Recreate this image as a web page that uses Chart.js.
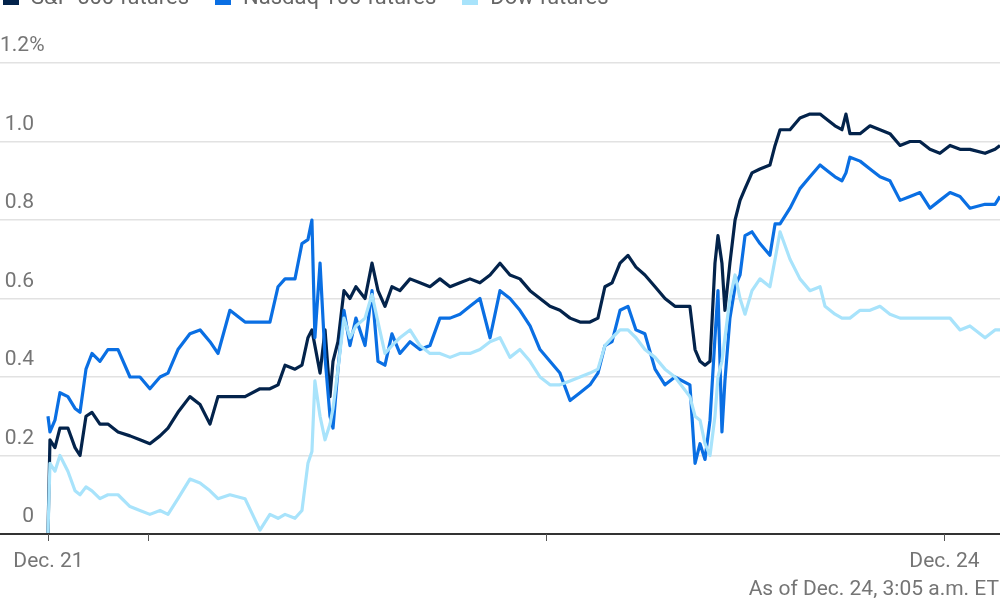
<!DOCTYPE html>
<html><head><meta charset="utf-8">
<script src="https://cdn.jsdelivr.net/npm/chart.js@4"></script>
<style>
body{margin:0;background:#fff;font-family:Roboto,"Liberation Sans",sans-serif;overflow:hidden}
#wrap{position:absolute;left:0;top:0;width:1000px;height:600px}
#legend{position:absolute;left:3px;top:-16px;font-size:22px;color:#666;white-space:nowrap}
#legend span.sw{display:inline-block;width:16px;height:16px;margin-right:12px;vertical-align:-1px}
#legend span.it{margin-right:26px}
</style></head><body>
<div id="wrap"><canvas id="c" width="1000" height="600"></canvas></div>
<div id="legend"></div>
<script>
const seriesNames = ["S&P 500 futures","Nasdaq 100 futures","Dow futures"];
const seriesColors = ["#03234b","#0a6fe3","#a8e3fb"];
// hours since 6 p.m. ET, Dec. 21
const hours = [
0,0.12,0.42,0.72,1.2,1.63,1.93,2.29,2.65,3.13,
3.61,4.22,4.94,5.54,6.14,6.75,7.23,7.83,8.55,9.16,
9.76,10.24,10.96,11.87,12.77,13.37,13.86,14.28,14.88,15.3,
15.66,15.9,16.08,16.39,16.69,16.99,17.17,17.47,17.83,18.19,
18.55,19.1,19.52,19.88,20.3,20.72,21.2,21.81,22.41,23.01,
23.61,24.22,24.82,25.42,26.02,26.63,27.23,27.83,28.43,29.04,
29.64,30.24,30.84,31.45,32.05,32.65,33.13,33.55,33.98,34.46,
34.94,35.42,35.96,36.57,37.17,37.77,38.67,38.98,39.28,39.58,
39.88,40.18,40.36,40.6,40.78,41.08,41.39,41.69,41.99,42.41,
42.89,43.49,43.8,44.1,44.7,45.3,45.9,46.51,46.81,47.41,
47.83,48.07,48.31,48.92,49.52,50.12,50.72,51.33,51.93,52.53,
53.13,53.73,54.34,54.94,55.54,56.45,57.05,57.35];
const spFutures = [
0,0.24,0.22,0.27,0.27,0.22,0.2,0.3,0.31,0.28,
0.28,0.26,0.25,0.24,0.23,0.25,0.27,0.31,0.35,0.33,
0.28,0.35,0.35,0.35,0.37,0.37,0.38,0.43,0.42,0.43,
0.5,0.52,0.48,0.41,0.52,0.35,0.44,0.49,0.62,0.6,
0.63,0.6,0.69,0.62,0.58,0.63,0.62,0.65,0.64,0.63,
0.65,0.63,0.64,0.65,0.64,0.66,0.69,0.66,0.65,0.62,
0.6,0.58,0.57,0.55,0.54,0.54,0.55,0.63,0.64,0.69,
0.71,0.68,0.66,0.63,0.6,0.58,0.58,0.47,0.44,0.43,
0.44,0.69,0.76,0.69,0.57,0.69,0.8,0.85,0.88,0.92,
0.93,0.94,0.99,1.03,1.03,1.06,1.07,1.07,1.06,1.04,
1.03,1.07,1.02,1.02,1.04,1.03,1.02,0.99,1.0,1.0,
0.98,0.97,0.99,0.98,0.98,0.97,0.98,0.99];
const nasdaqFutures = [
0.3,0.26,0.29,0.36,0.35,0.32,0.31,0.42,0.46,0.44,
0.47,0.47,0.4,0.4,0.37,0.4,0.41,0.47,0.51,0.52,
0.49,0.46,0.57,0.54,0.54,0.54,0.63,0.65,0.65,0.74,
0.75,0.8,0.5,0.69,0.45,0.3,0.27,0.42,0.57,0.48,
0.55,0.48,0.62,0.44,0.43,0.51,0.46,0.49,0.47,0.48,
0.55,0.55,0.56,0.58,0.6,0.5,0.62,0.6,0.57,0.53,
0.47,0.44,0.41,0.34,0.36,0.38,0.41,0.48,0.49,0.57,
0.58,0.52,0.51,0.42,0.38,0.4,0.38,0.18,0.23,0.19,
0.29,0.5,0.62,0.26,0.39,0.55,0.63,0.66,0.76,0.77,
0.74,0.71,0.79,0.79,0.83,0.88,0.91,0.94,0.93,0.91,
0.9,0.92,0.96,0.95,0.93,0.91,0.9,0.85,0.86,0.87,
0.83,0.85,0.87,0.86,0.83,0.84,0.84,0.86];
const dowFutures = [
0,0.18,0.16,0.2,0.16,0.11,0.1,0.12,0.11,0.09,
0.1,0.1,0.07,0.06,0.05,0.06,0.05,0.09,0.14,0.13,
0.11,0.09,0.1,0.09,0.01,0.05,0.04,0.05,0.04,0.06,
0.18,0.21,0.39,0.3,0.24,0.28,0.32,0.42,0.55,0.5,
0.53,0.55,0.61,0.54,0.46,0.48,0.5,0.52,0.48,0.46,
0.46,0.45,0.46,0.46,0.47,0.49,0.5,0.45,0.47,0.44,
0.4,0.38,0.38,0.39,0.4,0.41,0.42,0.48,0.5,0.52,
0.52,0.5,0.47,0.45,0.42,0.4,0.35,0.3,0.29,0.23,
0.2,0.3,0.4,0.44,0.5,0.6,0.66,0.6,0.56,0.62,
0.65,0.63,0.7,0.77,0.7,0.65,0.62,0.63,0.58,0.56,
0.55,0.55,0.55,0.57,0.57,0.58,0.56,0.55,0.55,0.55,
0.55,0.55,0.55,0.52,0.53,0.5,0.52,0.52];
const yTickValues = [0,0.2,0.4,0.6,0.8,1.0,1.2];
const yTickLabels = ["0","0.2","0.4","0.6","0.8","1.0","1.2"];
const xTickHours = [0,6,30,54];
const xTickLabels = ["Dec. 21","","","Dec. 24"];
const footnote = "As of Dec. 24, 3:05 a.m. ET";

document.getElementById('legend').innerHTML = seriesNames.map((n,i)=>
 `<span class="it"><span class="sw" style="background:${seriesColors[i]}"></span>${n.replace('&','&amp;')}</span>`).join('');

const allSeries=[spFutures,nasdaqFutures,dowFutures];
const datasets = [2,1,0].map(i=>({
  label:seriesNames[i],
  data:hours.map((h,k)=>({x:h,y:allSeries[i][k]})),
  borderColor:seriesColors[i],borderWidth:3.2,pointRadius:0,tension:0,borderJoinStyle:'round'
}));

const deco={id:'deco',afterDraw(ch){
  const c=ch.ctx,x=ch.scales.x,y=ch.scales.y,a=ch.chartArea;
  c.save();
  c.font='21px Roboto, "Liberation Sans", sans-serif';c.fillStyle='#757575';c.textBaseline='middle';
  yTickValues.forEach((v,i)=>{const py=y.getPixelForValue(v)-17;
    if(i===yTickValues.length-1){c.textAlign='left';c.fillText(yTickLabels[i]+'%',0,py);}
    else{c.textAlign='right';c.fillText(yTickLabels[i],34,py);} });
  c.strokeStyle='#333';c.lineWidth=2;c.beginPath();c.moveTo(0,a.bottom);c.lineTo(1000,a.bottom);c.stroke();
  c.lineWidth=1;c.strokeStyle='#555';
  xTickHours.forEach((h,i)=>{const px=Math.round(x.getPixelForValue(h))+0.5;
    c.beginPath();c.moveTo(px,a.bottom);c.lineTo(px,a.bottom+7);c.stroke();
    if(xTickLabels[i]){c.textAlign='center';c.fillText(xTickLabels[i],px,a.bottom+28);} });
  c.textAlign='right';c.fillText(footnote,999,590);
  c.restore();
}};

new Chart(document.getElementById('c'),{
  type:'line',data:{datasets},
  options:{responsive:false,animation:false,
    layout:{padding:{top:63,bottom:66,left:0,right:0}},
    plugins:{legend:{display:false},tooltip:{enabled:false}},
    scales:{
      x:{type:'linear',min:-2.89,max:57.35,display:false},
      y:{min:0,max:1.2,afterBuildTicks(s){s.ticks=yTickValues.map(v=>({value:v}));},
         ticks:{display:false},grid:{color:'#e2e2e2',lineWidth:1.5,drawTicks:false},border:{display:false}}
    }},
  plugins:[deco]
});
</script></body></html>
